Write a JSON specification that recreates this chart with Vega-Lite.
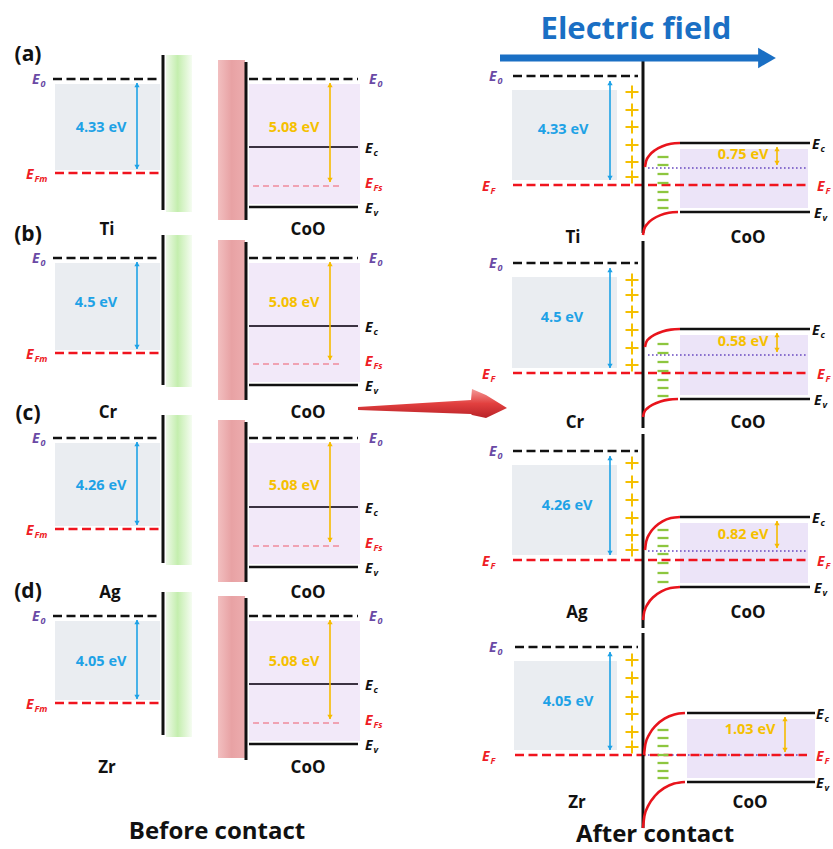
{
"$schema":"https://vega.github.io/schema/vega-lite/v6.json",
"width":833,"height":849,"padding":0,"autosize":"none","background":"white",
"config":{"view":{"stroke":null},"text":{"font":"Open Sans"}},
"resolve":{"scale":{"color":"independent","shape":"independent"}},
"datasets":{
"rects":[
{"k":"metal","x":55,"x2":160,"y":84,"y2":170},{"k":"metal","x":55,"x2":160,"y":263,"y2":350},{"k":"metal","x":55,"x2":160,"y":443,"y2":526},{"k":"metal","x":55,"x2":160,"y":621,"y2":700},
{"k":"coo","x":249,"x2":360,"y":84,"y2":204},{"k":"coo","x":249,"x2":360,"y":263,"y2":382},{"k":"coo","x":249,"x2":360,"y":443,"y2":564},{"k":"coo","x":249,"x2":360,"y":621,"y2":741},
{"k":"metal","x":512,"x2":617,"y":90,"y2":180},{"k":"metal","x":512,"x2":617,"y":277,"y2":368},{"k":"metal","x":512,"x2":617,"y":465,"y2":555},{"k":"metal","x":514,"x2":617,"y":661,"y2":750},
{"k":"cooA","x":680,"x2":808,"y":149,"y2":208},{"k":"cooA","x":680,"x2":808,"y":335,"y2":395},{"k":"cooA","x":680,"x2":808,"y":523,"y2":583},{"k":"cooA","x":687,"x2":815,"y":719,"y2":778},
{"k":"green","x":166,"x2":192,"y":55,"y2":212},{"k":"green","x":166,"x2":192,"y":235,"y2":387},{"k":"green","x":166,"x2":192,"y":415,"y2":565},{"k":"green","x":166,"x2":192,"y":592,"y2":737},
{"k":"pink","x":218,"x2":245,"y":60,"y2":220},{"k":"pink","x":218,"x2":245,"y":240,"y2":400},{"k":"pink","x":218,"x2":245,"y":420,"y2":582},{"k":"pink","x":218,"x2":245,"y":596,"y2":758}
],
"arrow":[
{"x":358,"y":407,"y2":410},{"x":471,"y":400,"y2":414},{"x":472,"y":389,"y2":415},{"x":486,"y":395,"y2":418},{"x":507,"y":408,"y2":408}
],
"segs":[
{"k":"bkd","x":53,"x2":160,"y":79,"y2":79},{"k":"bkd","x":249,"x2":358,"y":79,"y2":79},
{"k":"bkd","x":53,"x2":160,"y":258,"y2":258},{"k":"bkd","x":249,"x2":358,"y":258,"y2":258},
{"k":"bkd","x":53,"x2":160,"y":438,"y2":438},{"k":"bkd","x":249,"x2":358,"y":438,"y2":438},
{"k":"bkd","x":53,"x2":160,"y":616,"y2":616},{"k":"bkd","x":249,"x2":358,"y":616,"y2":616},
{"k":"bkd","x":513,"x2":638,"y":76,"y2":76},{"k":"bkd","x":513,"x2":638,"y":263,"y2":263},
{"k":"bkd","x":513,"x2":638,"y":451,"y2":451},{"k":"bkd","x":515,"x2":638,"y":647,"y2":647},
{"k":"rdd","x":55,"x2":160,"y":173,"y2":173},{"k":"rdd","x":55,"x2":160,"y":353,"y2":353},
{"k":"rdd","x":55,"x2":160,"y":529,"y2":529},{"k":"rdd","x":55,"x2":160,"y":703,"y2":703},
{"k":"rdd","x":513,"x2":808,"y":185,"y2":185},{"k":"rdd","x":513,"x2":808,"y":373,"y2":373},
{"k":"rdd","x":513,"x2":808,"y":560,"y2":560},{"k":"rdd","x":515,"x2":807,"y":755,"y2":755},
{"k":"pkd","x":253,"x2":343,"y":186,"y2":186},{"k":"pkd","x":253,"x2":343,"y":364,"y2":364},
{"k":"pkd","x":253,"x2":343,"y":546,"y2":546},{"k":"pkd","x":253,"x2":343,"y":723,"y2":723},
{"k":"ect","x":249,"x2":358,"y":147,"y2":147},{"k":"ect","x":249,"x2":358,"y":326,"y2":326},
{"k":"ect","x":249,"x2":358,"y":507,"y2":507},{"k":"ect","x":249,"x2":358,"y":684,"y2":684},
{"k":"sol","x":249,"x2":358,"y":207,"y2":207},{"k":"sol","x":249,"x2":358,"y":385,"y2":385},
{"k":"sol","x":249,"x2":358,"y":567,"y2":567},{"k":"sol","x":249,"x2":358,"y":744,"y2":744},
{"k":"sol","x":680,"x2":810,"y":143,"y2":143},{"k":"sol","x":680,"x2":810,"y":212,"y2":212},
{"k":"sol","x":680,"x2":810,"y":329,"y2":329},{"k":"sol","x":680,"x2":810,"y":399,"y2":399},
{"k":"sol","x":680,"x2":810,"y":517,"y2":517},{"k":"sol","x":680,"x2":810,"y":587,"y2":587},
{"k":"sol","x":687,"x2":815,"y":713,"y2":713},{"k":"sol","x":687,"x2":815,"y":782,"y2":782},
{"k":"vl","x":163,"x2":163,"y":55,"y2":210},{"k":"vl","x":163,"x2":163,"y":235,"y2":385},
{"k":"vl","x":163,"x2":163,"y":415,"y2":563},{"k":"vl","x":163,"x2":163,"y":592,"y2":735},
{"k":"vl","x":246,"x2":246,"y":62,"y2":220},{"k":"vl","x":246,"x2":246,"y":242,"y2":400},
{"k":"vl","x":246,"x2":246,"y":422,"y2":582},{"k":"vl","x":246,"x2":246,"y":598,"y2":760},
{"k":"vl","x":643,"x2":643,"y":60,"y2":233},{"k":"vl","x":643,"x2":643,"y":241,"y2":428},
{"k":"vl","x":643,"x2":643,"y":434,"y2":628},{"k":"vl","x":643,"x2":643,"y":633,"y2":828},
{"k":"dot","x":648,"x2":808,"y":168,"y2":168},{"k":"dot","x":648,"x2":808,"y":355,"y2":355},
{"k":"dot","x":648,"x2":808,"y":551,"y2":551},{"k":"dot","x":648,"x2":808,"y":755,"y2":755},
{"k":"bar","x":137,"x2":137,"y":83,"y2":169},{"k":"bar","x":137,"x2":137,"y":262,"y2":349},
{"k":"bar","x":137,"x2":137,"y":442,"y2":525},{"k":"bar","x":137,"x2":137,"y":620,"y2":699},
{"k":"bar","x":610,"x2":610,"y":81,"y2":180},{"k":"bar","x":610,"x2":610,"y":268,"y2":368},
{"k":"bar","x":610,"x2":610,"y":456,"y2":555},{"k":"bar","x":610,"x2":610,"y":652,"y2":750},
{"k":"gar","x":330,"x2":330,"y":83,"y2":182},{"k":"gar","x":330,"x2":330,"y":262,"y2":360},
{"k":"gar","x":330,"x2":330,"y":442,"y2":542},{"k":"gar","x":330,"x2":330,"y":620,"y2":719},
{"k":"gar","x":777,"x2":777,"y":147,"y2":165},{"k":"gar","x":777,"x2":777,"y":333,"y2":352},
{"k":"gar","x":777,"x2":777,"y":521,"y2":548},{"k":"gar","x":785,"x2":785,"y":717,"y2":752},
{"k":"fld","x":500,"x2":760,"y":58,"y2":58}
],
"curves":[
{"c":"a1","i":0,"x":645,"y":167},{"c":"a1","i":1,"x":646.2,"y":160.8},{"c":"a1","i":2,"x":649.7,"y":155},{"c":"a1","i":3,"x":655.3,"y":150},{"c":"a1","i":4,"x":662.5,"y":146.2},{"c":"a1","i":5,"x":670.9,"y":143.8},{"c":"a1","i":6,"x":680,"y":143},
{"c":"a2","i":0,"x":643,"y":235},{"c":"a2","i":1,"x":644.2,"y":229},{"c":"a2","i":2,"x":647.7,"y":223.5},{"c":"a2","i":3,"x":653.3,"y":218.7},{"c":"a2","i":4,"x":660.5,"y":215.1},{"c":"a2","i":5,"x":668.9,"y":212.8},{"c":"a2","i":6,"x":678,"y":212},
{"c":"b1","i":0,"x":645,"y":347},{"c":"b1","i":1,"x":646.2,"y":342.3},{"c":"b1","i":2,"x":649.7,"y":338},{"c":"b1","i":3,"x":655.3,"y":334.3},{"c":"b1","i":4,"x":662.5,"y":331.4},{"c":"b1","i":5,"x":670.9,"y":329.6},{"c":"b1","i":6,"x":680,"y":329},
{"c":"b2","i":0,"x":643,"y":417},{"c":"b2","i":1,"x":644.2,"y":412.3},{"c":"b2","i":2,"x":647.7,"y":408},{"c":"b2","i":3,"x":653.3,"y":404.3},{"c":"b2","i":4,"x":660.5,"y":401.4},{"c":"b2","i":5,"x":668.9,"y":399.6},{"c":"b2","i":6,"x":678,"y":399},
{"c":"c1","i":0,"x":645,"y":550},{"c":"c1","i":1,"x":646.2,"y":541.5},{"c":"c1","i":2,"x":649.7,"y":533.5},{"c":"c1","i":3,"x":655.3,"y":526.7},{"c":"c1","i":4,"x":662.5,"y":521.4},{"c":"c1","i":5,"x":670.9,"y":518.1},{"c":"c1","i":6,"x":680,"y":517},
{"c":"c2","i":0,"x":643,"y":620},{"c":"c2","i":1,"x":644.3,"y":611.5},{"c":"c2","i":2,"x":648,"y":603.5},{"c":"c2","i":3,"x":653.8,"y":596.7},{"c":"c2","i":4,"x":661.5,"y":591.4},{"c":"c2","i":5,"x":670.4,"y":588.1},{"c":"c2","i":6,"x":680,"y":587},
{"c":"d1","i":0,"x":644,"y":755},{"c":"d1","i":1,"x":645.4,"y":744.1},{"c":"d1","i":2,"x":649.5,"y":734},{"c":"d1","i":3,"x":656,"y":725.3},{"c":"d1","i":4,"x":664.5,"y":718.6},{"c":"d1","i":5,"x":674.4,"y":714.4},{"c":"d1","i":6,"x":685,"y":713},
{"c":"d2","i":0,"x":643,"y":828},{"c":"d2","i":1,"x":644.4,"y":816.1},{"c":"d2","i":2,"x":648.6,"y":805},{"c":"d2","i":3,"x":655.3,"y":795.5},{"c":"d2","i":4,"x":664,"y":788.2},{"c":"d2","i":5,"x":674.1,"y":783.6},{"c":"d2","i":6,"x":685,"y":782}
],
"heads":[
{"d":"up","c":"b","x":137,"y":85},{"d":"down","c":"b","x":137,"y":167},{"d":"up","c":"b","x":137,"y":264},{"d":"down","c":"b","x":137,"y":347},
{"d":"up","c":"b","x":137,"y":444},{"d":"down","c":"b","x":137,"y":523},{"d":"up","c":"b","x":137,"y":622},{"d":"down","c":"b","x":137,"y":697},
{"d":"up","c":"b","x":610,"y":83},{"d":"down","c":"b","x":610,"y":178},{"d":"up","c":"b","x":610,"y":270},{"d":"down","c":"b","x":610,"y":366},
{"d":"up","c":"b","x":610,"y":458},{"d":"down","c":"b","x":610,"y":553},{"d":"up","c":"b","x":610,"y":654},{"d":"down","c":"b","x":610,"y":748},
{"d":"up","c":"g","x":330,"y":85},{"d":"down","c":"g","x":330,"y":180},{"d":"up","c":"g","x":330,"y":264},{"d":"down","c":"g","x":330,"y":358},
{"d":"up","c":"g","x":330,"y":444},{"d":"down","c":"g","x":330,"y":540},{"d":"up","c":"g","x":330,"y":622},{"d":"down","c":"g","x":330,"y":717},
{"d":"up","c":"g","x":777,"y":149},{"d":"down","c":"g","x":777,"y":163},{"d":"up","c":"g","x":777,"y":335},{"d":"down","c":"g","x":777,"y":350},
{"d":"up","c":"g","x":777,"y":523},{"d":"down","c":"g","x":777,"y":546},{"d":"up","c":"g","x":785,"y":719},{"d":"down","c":"g","x":785,"y":750}
],
"fieldhead":[{"x":767,"y":58}],
"charges":[
{"k":"p","x":632,"y":92},{"k":"p","x":632,"y":110},{"k":"p","x":632,"y":127},{"k":"p","x":632,"y":145},{"k":"p","x":632,"y":162},{"k":"p","x":632,"y":177},
{"k":"p","x":632,"y":280},{"k":"p","x":632,"y":295},{"k":"p","x":632,"y":312},{"k":"p","x":632,"y":330},{"k":"p","x":632,"y":348},{"k":"p","x":632,"y":365},
{"k":"p","x":632,"y":463},{"k":"p","x":632,"y":482},{"k":"p","x":632,"y":500},{"k":"p","x":632,"y":518},{"k":"p","x":632,"y":535},{"k":"p","x":632,"y":550},
{"k":"p","x":632,"y":660},{"k":"p","x":632,"y":678},{"k":"p","x":632,"y":697},{"k":"p","x":632,"y":714},{"k":"p","x":632,"y":732},{"k":"p","x":632,"y":747},
{"k":"m","x":663,"y":157},{"k":"m","x":663,"y":165},{"k":"m","x":663,"y":174},{"k":"m","x":663,"y":183},{"k":"m","x":663,"y":192},{"k":"m","x":663,"y":200},{"k":"m","x":663,"y":208},
{"k":"m","x":663,"y":344},{"k":"m","x":663,"y":353},{"k":"m","x":663,"y":362},{"k":"m","x":663,"y":371},{"k":"m","x":663,"y":380},{"k":"m","x":663,"y":388},{"k":"m","x":663,"y":396},
{"k":"m","x":663,"y":530},{"k":"m","x":663,"y":538},{"k":"m","x":663,"y":546},{"k":"m","x":663,"y":554},{"k":"m","x":663,"y":563},{"k":"m","x":663,"y":573},{"k":"m","x":663,"y":582},
{"k":"m","x":663,"y":730},{"k":"m","x":663,"y":738},{"k":"m","x":663,"y":746},{"k":"m","x":663,"y":755},{"k":"m","x":663,"y":763},{"k":"m","x":663,"y":771},{"k":"m","x":663,"y":778}
],
"texts":[
{"k":"letter","t":"(a)","x":28,"y":55},{"k":"letter","t":"(b)","x":28,"y":235},{"k":"letter","t":"(c)","x":28,"y":414},{"k":"letter","t":"(d)","x":28,"y":592},
{"k":"mat","t":"Ti","x":107,"y":230},{"k":"mat","t":"Cr","x":108,"y":413},{"k":"mat","t":"Ag","x":110,"y":593},{"k":"mat","t":"Zr","x":107,"y":768},
{"k":"mat","t":"CoO","x":308,"y":230},{"k":"mat","t":"CoO","x":308,"y":413},{"k":"mat","t":"CoO","x":308,"y":593},{"k":"mat","t":"CoO","x":308,"y":768},
{"k":"mat","t":"Ti","x":573,"y":238},{"k":"mat","t":"Cr","x":575,"y":423},{"k":"mat","t":"Ag","x":577,"y":613},{"k":"mat","t":"Zr","x":577,"y":803},
{"k":"mat","t":"CoO","x":748,"y":238},{"k":"mat","t":"CoO","x":748,"y":423},{"k":"mat","t":"CoO","x":748,"y":613},{"k":"mat","t":"CoO","x":750,"y":803},
{"k":"ebl","t":"4.33 eV","x":101,"y":128},{"k":"ebl","t":"4.5 eV","x":96,"y":303},{"k":"ebl","t":"4.26 eV","x":101,"y":486},{"k":"ebl","t":"4.05 eV","x":101,"y":662},
{"k":"egd","t":"5.08 eV","x":294,"y":128},{"k":"egd","t":"5.08 eV","x":294,"y":303},{"k":"egd","t":"5.08 eV","x":294,"y":486},{"k":"egd","t":"5.08 eV","x":294,"y":662},
{"k":"ebl","t":"4.33 eV","x":563,"y":130},{"k":"ebl","t":"4.5 eV","x":562,"y":318},{"k":"ebl","t":"4.26 eV","x":567,"y":506},{"k":"ebl","t":"4.05 eV","x":568,"y":702},
{"k":"egd","t":"0.75 eV","x":743,"y":155},{"k":"egd","t":"0.58 eV","x":743,"y":342},{"k":"egd","t":"0.82 eV","x":743,"y":535},{"k":"egd","t":"1.03 eV","x":750,"y":730}
],
"titles":[
{"k":"t","t":"Before contact","x":217,"y":832},{"k":"t","t":"After contact","x":655,"y":835},{"k":"f","t":"Electric field","x":636,"y":30}
],
"elab":[
{"x":32,"y":80,"s":"0","c":"pu"},{"x":369,"y":80,"s":"0","c":"pu"},{"x":26,"y":175,"s":"Fm","c":"rd"},{"x":365,"y":149,"s":"c","c":"bk"},{"x":365,"y":184,"s":"Fs","c":"rd"},{"x":365,"y":209,"s":"v","c":"bk"},
{"x":32,"y":259,"s":"0","c":"pu"},{"x":369,"y":259,"s":"0","c":"pu"},{"x":26,"y":355,"s":"Fm","c":"rd"},{"x":365,"y":328,"s":"c","c":"bk"},{"x":365,"y":362,"s":"Fs","c":"rd"},{"x":365,"y":387,"s":"v","c":"bk"},
{"x":32,"y":439,"s":"0","c":"pu"},{"x":369,"y":439,"s":"0","c":"pu"},{"x":26,"y":531,"s":"Fm","c":"rd"},{"x":365,"y":509,"s":"c","c":"bk"},{"x":365,"y":544,"s":"Fs","c":"rd"},{"x":365,"y":569,"s":"v","c":"bk"},
{"x":32,"y":617,"s":"0","c":"pu"},{"x":369,"y":617,"s":"0","c":"pu"},{"x":26,"y":705,"s":"Fm","c":"rd"},{"x":365,"y":686,"s":"c","c":"bk"},{"x":365,"y":721,"s":"Fs","c":"rd"},{"x":365,"y":746,"s":"v","c":"bk"},
{"x":489,"y":77,"s":"0","c":"pu"},{"x":482,"y":187,"s":"F","c":"rd"},{"x":812,"y":145,"s":"c","c":"bk"},{"x":817,"y":187,"s":"F","c":"rd"},{"x":814,"y":214,"s":"v","c":"bk"},
{"x":489,"y":264,"s":"0","c":"pu"},{"x":482,"y":375,"s":"F","c":"rd"},{"x":812,"y":331,"s":"c","c":"bk"},{"x":817,"y":375,"s":"F","c":"rd"},{"x":814,"y":401,"s":"v","c":"bk"},
{"x":489,"y":452,"s":"0","c":"pu"},{"x":482,"y":562,"s":"F","c":"rd"},{"x":812,"y":519,"s":"c","c":"bk"},{"x":817,"y":562,"s":"F","c":"rd"},{"x":814,"y":589,"s":"v","c":"bk"},
{"x":489,"y":648,"s":"0","c":"pu"},{"x":482,"y":757,"s":"F","c":"rd"},{"x":816,"y":715,"s":"c","c":"bk"},{"x":816,"y":757,"s":"F","c":"rd"},{"x":816,"y":784,"s":"v","c":"bk"}
]
},
"encoding":{
"x":{"field":"x","type":"quantitative","scale":{"domain":[0,833],"nice":false,"zero":false},"axis":null},
"y":{"field":"y","type":"quantitative","scale":{"domain":[0,849],"nice":false,"zero":false,"reverse":true},"axis":null}
},
"layer":[
{"data":{"name":"rects"},"transform":[{"filter":"datum.k==='metal'||datum.k==='coo'||datum.k==='cooA'"}],"mark":{"type":"rect"},
"encoding":{"x2":{"field":"x2"},"y2":{"field":"y2"},"color":{"field":"k","type":"nominal","scale":{"domain":["metal","coo","cooA"],"range":["#eaedf1","#f2e9f9","#ece4f8"]},"legend":null}}},
{"data":{"name":"rects"},"transform":[{"filter":"datum.k==='green'"}],"mark":{"type":"rect","color":{"gradient":"linear","x1":0,"y1":0,"x2":1,"y2":0,"stops":[{"offset":0,"color":"#eef9e8"},{"offset":0.45,"color":"#c4eeae"},{"offset":1,"color":"#f5fcf1"}]}},
"encoding":{"x2":{"field":"x2"},"y2":{"field":"y2"}}},
{"data":{"name":"rects"},"transform":[{"filter":"datum.k==='pink'"}],"mark":{"type":"rect","color":{"gradient":"linear","x1":0,"y1":0,"x2":1,"y2":0,"stops":[{"offset":0,"color":"#f2bfc0"},{"offset":0.5,"color":"#e8a2a4"},{"offset":1,"color":"#ecacae"}]}},
"encoding":{"x2":{"field":"x2"},"y2":{"field":"y2"}}},
{"data":{"name":"arrow"},"mark":{"type":"area","color":{"gradient":"linear","x1":0,"y1":0,"x2":0,"y2":1,"stops":[{"offset":0,"color":"#f39a98"},{"offset":0.5,"color":"#e2403f"},{"offset":1,"color":"#b82228"}]}},
"encoding":{"y2":{"field":"y2"}}},
{"data":{"name":"segs"},"transform":[{"filter":"datum.k==='dot'"}],"mark":{"type":"rule","color":"#6a4ac0","strokeWidth":1.6,"strokeDash":[1.6,2.4]},"encoding":{"x2":{"field":"x2"},"y2":{"field":"y2"}}},
{"data":{"name":"segs"},"transform":[{"filter":"datum.k==='bkd'"}],"mark":{"type":"rule","color":"#111111","strokeWidth":2.6,"strokeDash":[9,4.5]},"encoding":{"x2":{"field":"x2"},"y2":{"field":"y2"}}},
{"data":{"name":"segs"},"transform":[{"filter":"datum.k==='rdd'"}],"mark":{"type":"rule","color":"#f0141e","strokeWidth":2.6,"strokeDash":[9,4.5]},"encoding":{"x2":{"field":"x2"},"y2":{"field":"y2"}}},
{"data":{"name":"segs"},"transform":[{"filter":"datum.k==='pkd'"}],"mark":{"type":"rule","color":"#ef8a9c","strokeWidth":1.4,"strokeDash":[6,4]},"encoding":{"x2":{"field":"x2"},"y2":{"field":"y2"}}},
{"data":{"name":"segs"},"transform":[{"filter":"datum.k==='ect'"}],"mark":{"type":"rule","color":"#3b3242","strokeWidth":2},"encoding":{"x2":{"field":"x2"},"y2":{"field":"y2"}}},
{"data":{"name":"segs"},"transform":[{"filter":"datum.k==='sol'"}],"mark":{"type":"rule","color":"#111111","strokeWidth":2.6},"encoding":{"x2":{"field":"x2"},"y2":{"field":"y2"}}},
{"data":{"name":"segs"},"transform":[{"filter":"datum.k==='vl'"}],"mark":{"type":"rule","color":"#111111","strokeWidth":3},"encoding":{"x2":{"field":"x2"},"y2":{"field":"y2"}}},
{"data":{"name":"segs"},"transform":[{"filter":"datum.k==='bar'"}],"mark":{"type":"rule","color":"#1ea2e6","strokeWidth":1.6},"encoding":{"x2":{"field":"x2"},"y2":{"field":"y2"}}},
{"data":{"name":"segs"},"transform":[{"filter":"datum.k==='gar'"}],"mark":{"type":"rule","color":"#f5bb00","strokeWidth":1.6},"encoding":{"x2":{"field":"x2"},"y2":{"field":"y2"}}},
{"data":{"name":"segs"},"transform":[{"filter":"datum.k==='fld'"}],"mark":{"type":"rule","color":"#1a6fc4","strokeWidth":7},"encoding":{"x2":{"field":"x2"},"y2":{"field":"y2"}}},
{"data":{"name":"fieldhead"},"mark":{"type":"point","shape":"triangle-right","filled":true,"size":420,"color":"#1a6fc4","opacity":1}},
{"data":{"name":"curves"},"mark":{"type":"line","color":"#e8141c","strokeWidth":2.6,"interpolate":"monotone"},"encoding":{"detail":{"field":"c"},"order":{"field":"i","type":"quantitative"}}},
{"data":{"name":"heads"},"mark":{"type":"point","filled":true,"size":28,"opacity":1},
"encoding":{"shape":{"field":"d","type":"nominal","scale":{"domain":["up","down"],"range":["triangle-up","triangle-down"]},"legend":null},
"color":{"field":"c","type":"nominal","scale":{"domain":["b","g"],"range":["#1ea2e6","#f5bb00"]},"legend":null}}},
{"data":{"name":"charges"},"transform":[{"filter":"datum.k==='p'"}],"mark":{"type":"point","shape":"M-1,0L1,0M0,-1L0,1","filled":false,"size":169,"strokeWidth":2,"color":"#f5c000","opacity":1}},
{"data":{"name":"charges"},"transform":[{"filter":"datum.k==='m'"}],"mark":{"type":"point","shape":"M-1,0L1,0","filled":false,"size":121,"strokeWidth":2.3,"color":"#8dc63f","opacity":1}},
{"data":{"name":"texts"},"transform":[{"filter":"datum.k==='letter'"}],"mark":{"type":"text","fontSize":21,"fontWeight":"bold","align":"center","baseline":"middle","color":"#111111"},"encoding":{"text":{"field":"t"}}},
{"data":{"name":"texts"},"transform":[{"filter":"datum.k==='mat'"}],"mark":{"type":"text","fontSize":17,"fontWeight":"bold","align":"center","baseline":"middle","color":"#111111"},"encoding":{"text":{"field":"t"}}},
{"data":{"name":"texts"},"transform":[{"filter":"datum.k==='ebl'||datum.k==='egd'"}],"mark":{"type":"text","fontSize":14.5,"fontWeight":"bold","align":"center","baseline":"middle"},
"encoding":{"text":{"field":"t"},"color":{"field":"k","type":"nominal","scale":{"domain":["ebl","egd"],"range":["#1ea2e6","#f5c000"]},"legend":null}}},
{"data":{"name":"titles"},"transform":[{"filter":"datum.k==='t'"}],"mark":{"type":"text","fontSize":24,"fontWeight":"bold","align":"center","baseline":"middle","color":"#111111"},"encoding":{"text":{"field":"t"}}},
{"data":{"name":"titles"},"transform":[{"filter":"datum.k==='f'"}],"mark":{"type":"text","fontSize":31,"fontWeight":"bold","align":"center","baseline":"middle","color":"#1a6fc4"},"encoding":{"text":{"field":"t"}}},
{"data":{"name":"elab"},"mark":{"type":"text","fontSize":14,"fontWeight":"bold","fontStyle":"italic","align":"left","baseline":"middle"},
"encoding":{"text":{"value":"E"},"color":{"field":"c","type":"nominal","scale":{"domain":["pu","rd","bk"],"range":["#6a4aa5","#ee1c25","#111111"]},"legend":null}}},
{"data":{"name":"elab"},"mark":{"type":"text","fontSize":9,"fontWeight":"bold","fontStyle":"italic","align":"left","baseline":"middle","dx":8.5,"dy":4},
"encoding":{"text":{"field":"s"},"color":{"field":"c","type":"nominal","scale":{"domain":["pu","rd","bk"],"range":["#6a4aa5","#ee1c25","#111111"]},"legend":null}}}
]
}
